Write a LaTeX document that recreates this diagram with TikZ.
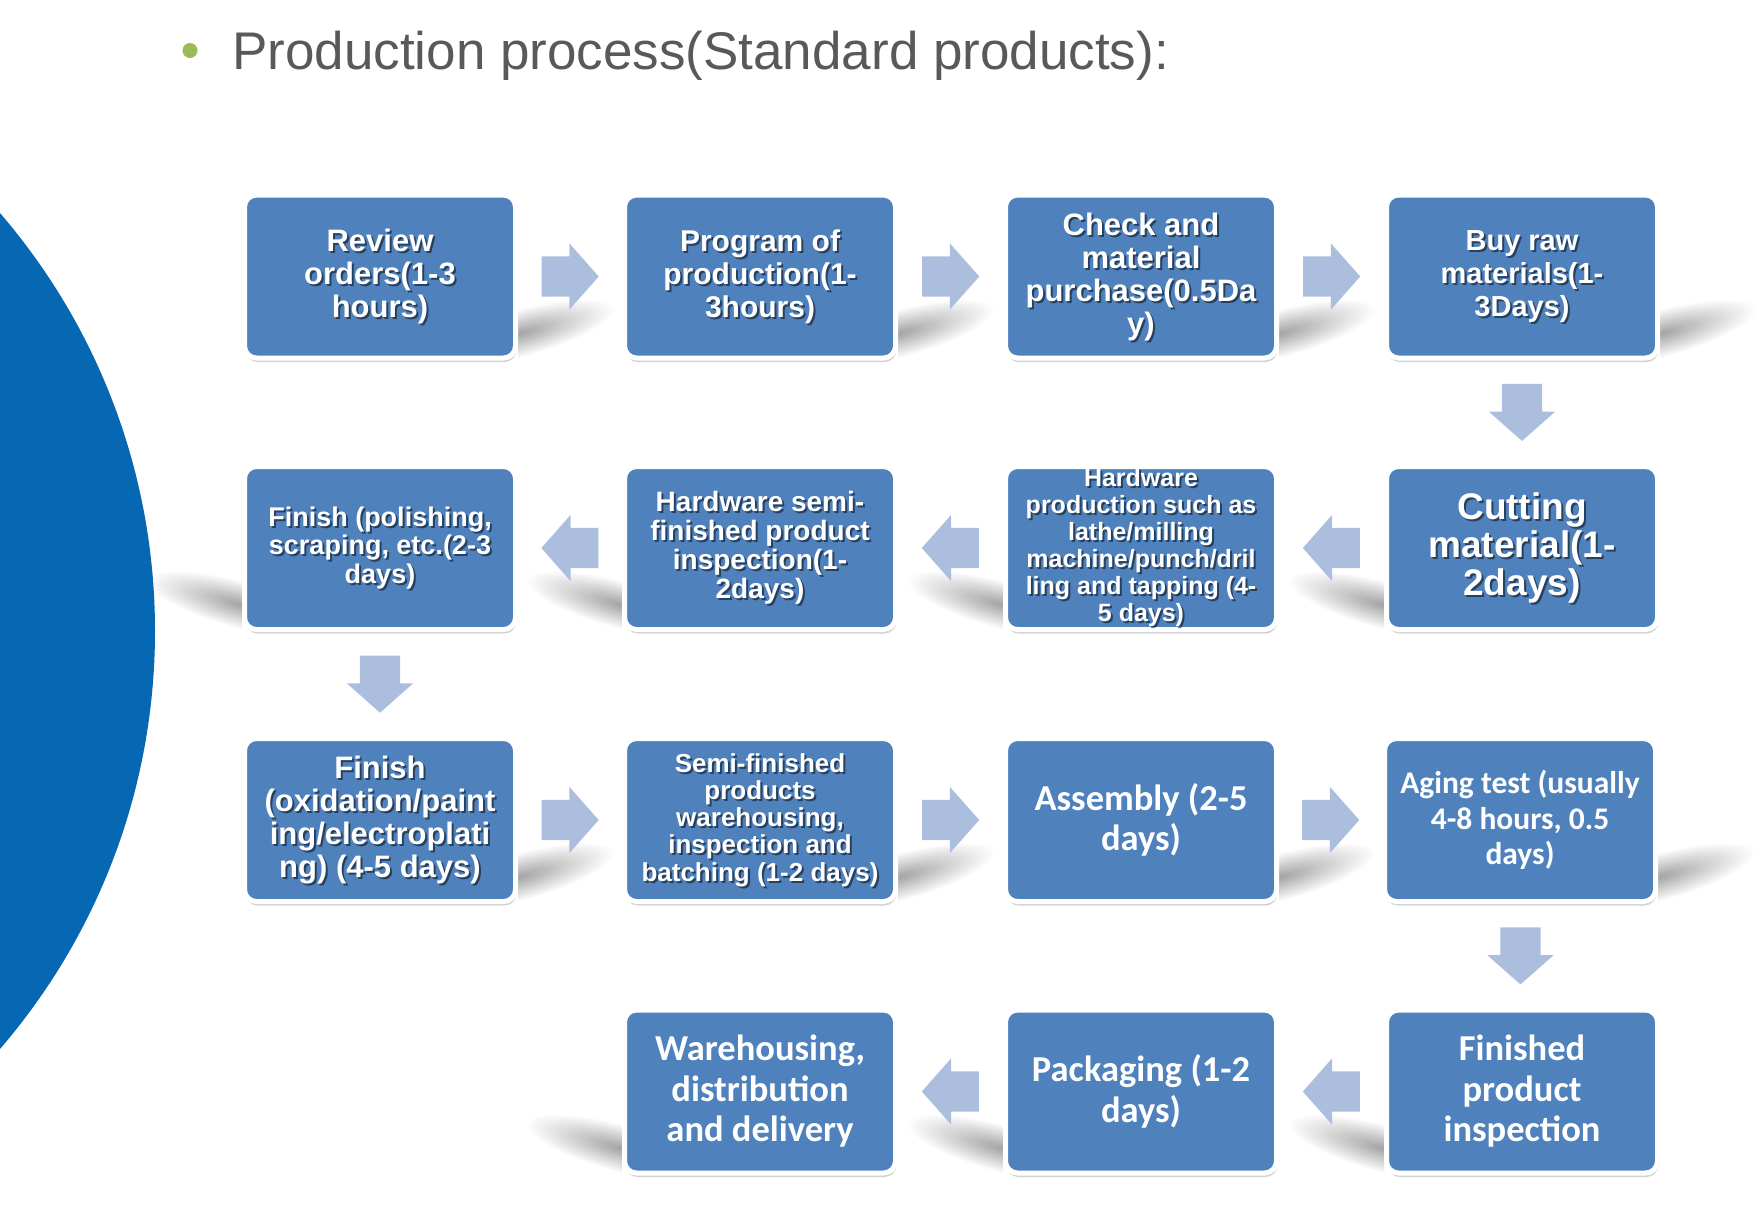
\documentclass[tikz,border=0pt]{standalone}
\usepackage{fontspec}
\setmainfont{Liberation Sans}
\newfontfamily\calibri{Carlito}
\definecolor{boxblue}{RGB}{79,129,189}
\definecolor{arrowblue}{RGB}{172,190,221}
\definecolor{discblue}{RGB}{6,104,178}
\definecolor{titlegray}{RGB}{89,89,89}
\definecolor{bulletgreen}{RGB}{155,187,89}
\usetikzlibrary{calc,shapes.arrows,shadows,backgrounds}
\newcommand{\stepfont}[2]{\fontsize{#1pt}{#2pt}\selectfont\bfseries}
\newcommand{\shadowlabel}[3]{%
  \node[stepshade, font=#2] (#1-s) at ([shift={(2,2)}]#1.center) {#3};
  \node[steptext, font=#2] (#1-t) at (#1.center) {#3};}
\tikzset{
  stepbox/.style={draw=white, line width=5pt, fill=boxblue, rounded corners=12pt, minimum width=271pt, minimum height=163pt, inner sep=0pt, align=center, text=white,
    drop shadow={shadow xshift=1pt, shadow yshift=-4pt, fill=black, opacity=0.18}},
  steptext/.style={text=white, align=center, inner sep=0pt},
  stepshade/.style={text=black, text opacity=0.5, align=center, inner sep=0pt},
  stepflow/.style={single arrow, fill=arrowblue, draw=none, anchor=tail, minimum height=57pt, minimum width=0pt, single arrow head extend=13pt, single arrow tip angle=97, inner xsep=0pt, inner ysep=20pt},
  groundshadow/.style={shading=radial, inner color=black!36, outer color=white},
}

\begin{document}
\begin{tikzpicture}[x=1pt, y=-1pt]
  \useasboundingbox (0,0) rectangle (1760,1208);
  % Title
  \node[circle, fill=bulletgreen, minimum size=15pt, inner sep=0pt] (bullet) at (190,50.5) {};
  \node[anchor=base west, inner sep=0pt, text=titlegray, font=\fontsize{53pt}{60pt}\selectfont] (title) at (232,69.5) {Production process(Standard products):};
  % Row 1
  \node[stepbox] (review) at (380,276.5) {};
  \node[stepbox] (program) at (760,276.5) {};
  \node[stepbox] (check) at (1141,276.5) {};
  \node[stepbox] (buyraw) at (1522,276.5) {};
  % Row 2
  \node[stepbox] (cutting) at (1522,548) {};
  \node[stepbox] (hwprod) at (1141,548) {};
  \node[stepbox] (hwsemi) at (760,548) {};
  \node[stepbox] (polish) at (380,548) {};
  % Row 3
  \node[stepbox] (coating) at (380,820) {};
  \node[stepbox] (semi) at (760,820) {};
  \node[stepbox, font=\calibri\stepfont{36.5}{40.5}] (assembly) at (1141,820) {Assembly (2-5\\days)};
  \node[stepbox, font=\calibri\stepfont{31.5}{35.4}] (aging) at (1520,820) {Aging test (usually\\4-8 hours, 0.5\\days)};
  % Row 4
  \node[stepbox, font=\calibri\stepfont{36.5}{40.5}] (finalqc) at (1522,1091.5) {Finished\\product\\inspection};
  \node[stepbox, font=\calibri\stepfont{36.5}{40.5}] (packing) at (1141,1091.5) {Packaging (1-2\\days)};
  \node[stepbox, font=\calibri\stepfont{36.5}{40.5}] (delivery) at (760,1091.5) {Warehousing,\\distribution\\and delivery};
  % Labels with text shadow
  \shadowlabel{review}{\stepfont{31}{33}}{Review\\orders(1-3\\hours)}
  \shadowlabel{program}{\stepfont{30}{33}}{Program of\\production(1-\\3hours)}
  \shadowlabel{check}{\stepfont{31}{33}}{Check and\\material\\purchase(0.5Da\\y)}
  \shadowlabel{buyraw}{\stepfont{29}{33}}{Buy raw\\materials(1-\\3Days)}
  \shadowlabel{cutting}{\stepfont{37}{38}}{Cutting\\material(1-\\2days)}
  \shadowlabel{hwprod}{\stepfont{25}{27}}{Hardware\\production such as\\lathe/milling\\machine/punch/dril\\ling and tapping (4-\\5 days)}
  \shadowlabel{hwsemi}{\stepfont{28}{29}}{Hardware semi-\\finished product\\inspection(1-\\2days)}
  \shadowlabel{polish}{\stepfont{27}{28.6}}{Finish (polishing,\\scraping, etc.(2-3\\days)}
  \shadowlabel{coating}{\stepfont{31}{33}}{Finish\\(oxidation/paint\\ing/electroplati\\ng) (4-5 days)}
  \shadowlabel{semi}{\stepfont{26}{27.3}}{Semi-finished\\products\\warehousing,\\inspection and\\batching (1-2 days)}
  % Block arrows (tail placed half a length before the gap centre)
  \node[stepflow] (f1) at ($(review.east)!0.5!(program.west)!28.5pt!(review.east)$) {};
  \node[stepflow] (f2) at ($(program.east)!0.5!(check.west)!28.5pt!(program.east)$) {};
  \node[stepflow] (f3) at ($(check.east)!0.5!(buyraw.west)!28.5pt!(check.east)$) {};
  \node[stepflow, rotate=-90] (f4) at ($(buyraw.south)!0.5!(cutting.north)!28.5pt!(buyraw.south)$) {};
  \node[stepflow, rotate=180] (f5) at ($(cutting.west)!0.5!(hwprod.east)!28.5pt!(cutting.west)$) {};
  \node[stepflow, rotate=180] (f6) at ($(hwprod.west)!0.5!(hwsemi.east)!28.5pt!(hwprod.west)$) {};
  \node[stepflow, rotate=180] (f7) at ($(hwsemi.west)!0.5!(polish.east)!28.5pt!(hwsemi.west)$) {};
  \node[stepflow, rotate=-90] (f8) at ($(polish.south)!0.5!(coating.north)!28.5pt!(polish.south)$) {};
  \node[stepflow] (f9) at ($(coating.east)!0.5!(semi.west)!28.5pt!(coating.east)$) {};
  \node[stepflow] (f10) at ($(semi.east)!0.5!(assembly.west)!28.5pt!(semi.east)$) {};
  \node[stepflow] (f11) at ($(assembly.east)!0.5!(aging.west)!28.5pt!(assembly.east)$) {};
  \node[stepflow, rotate=-90] (f12) at ($(aging.south)!0.5!(finalqc.north)!28.5pt!(aging.south)$) {};
  \node[stepflow, rotate=180] (f13) at ($(finalqc.west)!0.5!(packing.east)!28.5pt!(finalqc.west)$) {};
  \node[stepflow, rotate=180] (f14) at ($(packing.west)!0.5!(delivery.east)!28.5pt!(packing.west)$) {};
  % Floor shadows (only beside each box) and disc
  \begin{pgfonlayer}{background}
    \foreach \b in {review,program,check,buyraw,coating,semi,assembly,aging}{
      \begin{scope}
        \clip (\b.north east) rectangle ([xshift=150pt]\b.south east);
        \begin{scope}[transform canvas={rotate around={15:([shift={(0,-27)}]\b.south east)}}]
          \shade[groundshadow] ([shift={(0,-27)}]\b.south east) ellipse [x radius=100pt, y radius=24pt];
        \end{scope}
      \end{scope}}
    \foreach \b in {cutting,hwprod,hwsemi,polish,finalqc,packing,delivery}{
      \begin{scope}
        \clip (\b.north west) rectangle ([xshift=-150pt]\b.south west);
        \begin{scope}[transform canvas={rotate around={-15:([shift={(0,-27)}]\b.south west)}}]
          \shade[groundshadow] ([shift={(0,-27)}]\b.south west) ellipse [x radius=100pt, y radius=24pt];
        \end{scope}
      \end{scope}}
    \fill[discblue] (-486,631) circle (641pt);
  \end{pgfonlayer}
\end{tikzpicture}
\end{document}
